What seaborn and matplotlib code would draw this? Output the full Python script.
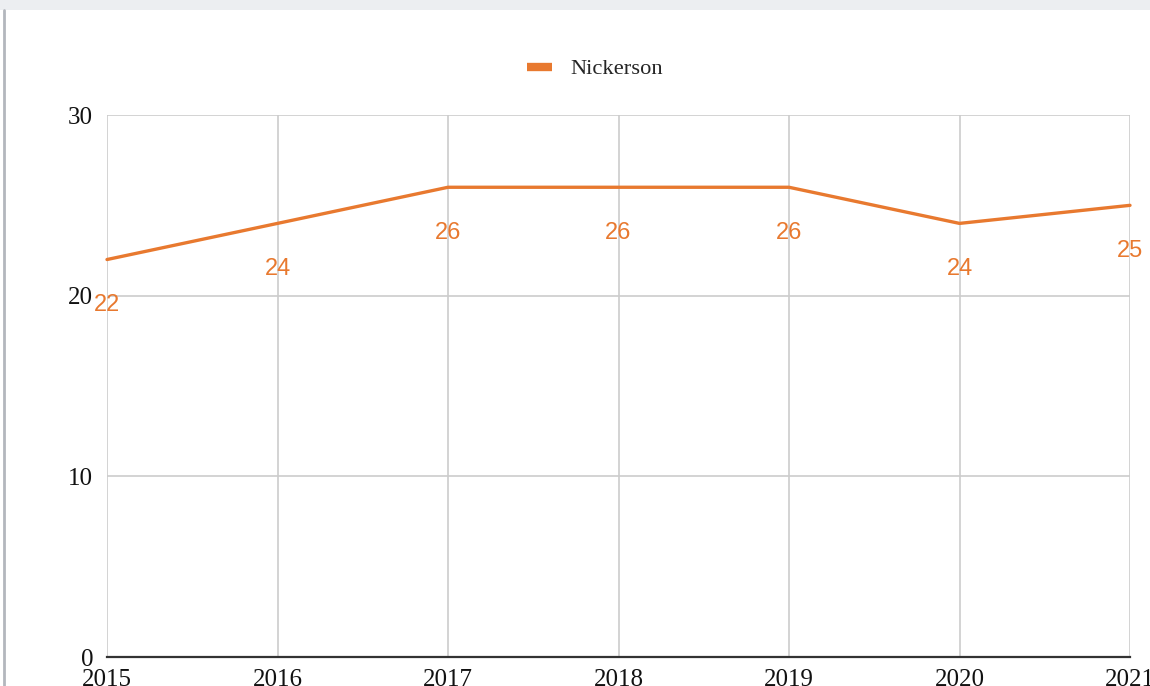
import matplotlib
matplotlib.use("Agg")
import matplotlib.pyplot as plt
from matplotlib.patches import Rectangle
from matplotlib.lines import Line2D
import seaborn as sns
import pandas as pd

years = [2015, 2016, 2017, 2018, 2019, 2020, 2021]
nickerson = [22, 24, 26, 26, 26, 24, 25]
y_ticks = [0, 10, 20, 30]
series_name = "Nickerson"

orange = "#e8792f"
serif = "Liberation Serif"
sans = "Liberation Sans"

sns.set_style("white")
df = pd.DataFrame({"year": years, "value": nickerson})

W, H = 1150, 686
fig = plt.figure(figsize=(W / 100, H / 100), dpi=100)

# page decorations: grey strip on top and thin rule on the left
fig.patches.append(Rectangle((0, 1 - 10 / H), 1, 10 / H, transform=fig.transFigure,
                             facecolor="#eceef1", edgecolor="none", zorder=0))
fig.lines.append(Line2D([4 / W, 4 / W], [0, 1 - 10 / H], transform=fig.transFigure,
                        color="#b3b7bd", linewidth=2))

left, right, top, bottom = 107, 1130, 115, 657
ax = fig.add_axes([left / W, (H - bottom) / H, (right - left) / W, (bottom - top) / H])

sns.lineplot(data=df, x="year", y="value", ax=ax, color=orange, linewidth=2.4,
             label=series_name, legend=False, clip_on=False, zorder=3)

ax.set_xlim(years[0], years[-1])
ax.set_ylim(y_ticks[0], y_ticks[-1])
ax.set_xticks(years)
ax.set_yticks(y_ticks)
ax.set_xticklabels([str(y) for y in years], fontfamily=serif, fontsize=18)
ax.set_yticklabels([str(v) for v in y_ticks], fontfamily=serif, fontsize=18)
ax.tick_params(axis="both", length=0, colors="#111111")
ax.tick_params(axis="y", pad=10)
ax.tick_params(axis="x", pad=9)
ax.set_xlabel("")
ax.set_ylabel("")
ax.grid(True, color="#cccccc", linewidth=1.2)
for side in ["top", "right", "left"]:
    ax.spines[side].set_visible(False)
ax.spines["bottom"].set_color("#333333")
ax.spines["bottom"].set_linewidth(1.6)
ax.spines["bottom"].set_zorder(4)

# value labels below each point
for x, v in zip(years, nickerson):
    ax.annotate(str(v), (x, v), xytext=(0, -33), textcoords="offset points",
                ha="center", va="center", color=orange, fontsize=17,
                fontfamily=sans, annotation_clip=False)

# legend
handle = Line2D([], [], color=orange, linewidth=6, solid_capstyle="butt")
fig.legend([handle], [series_name], loc="center", bbox_to_anchor=(595 / W, 1 - 69 / H),
           frameon=False, prop={"family": serif, "size": 16.2}, handlelength=1.1,
           handletextpad=0.8)

fig.savefig("out.png", dpi=100)
